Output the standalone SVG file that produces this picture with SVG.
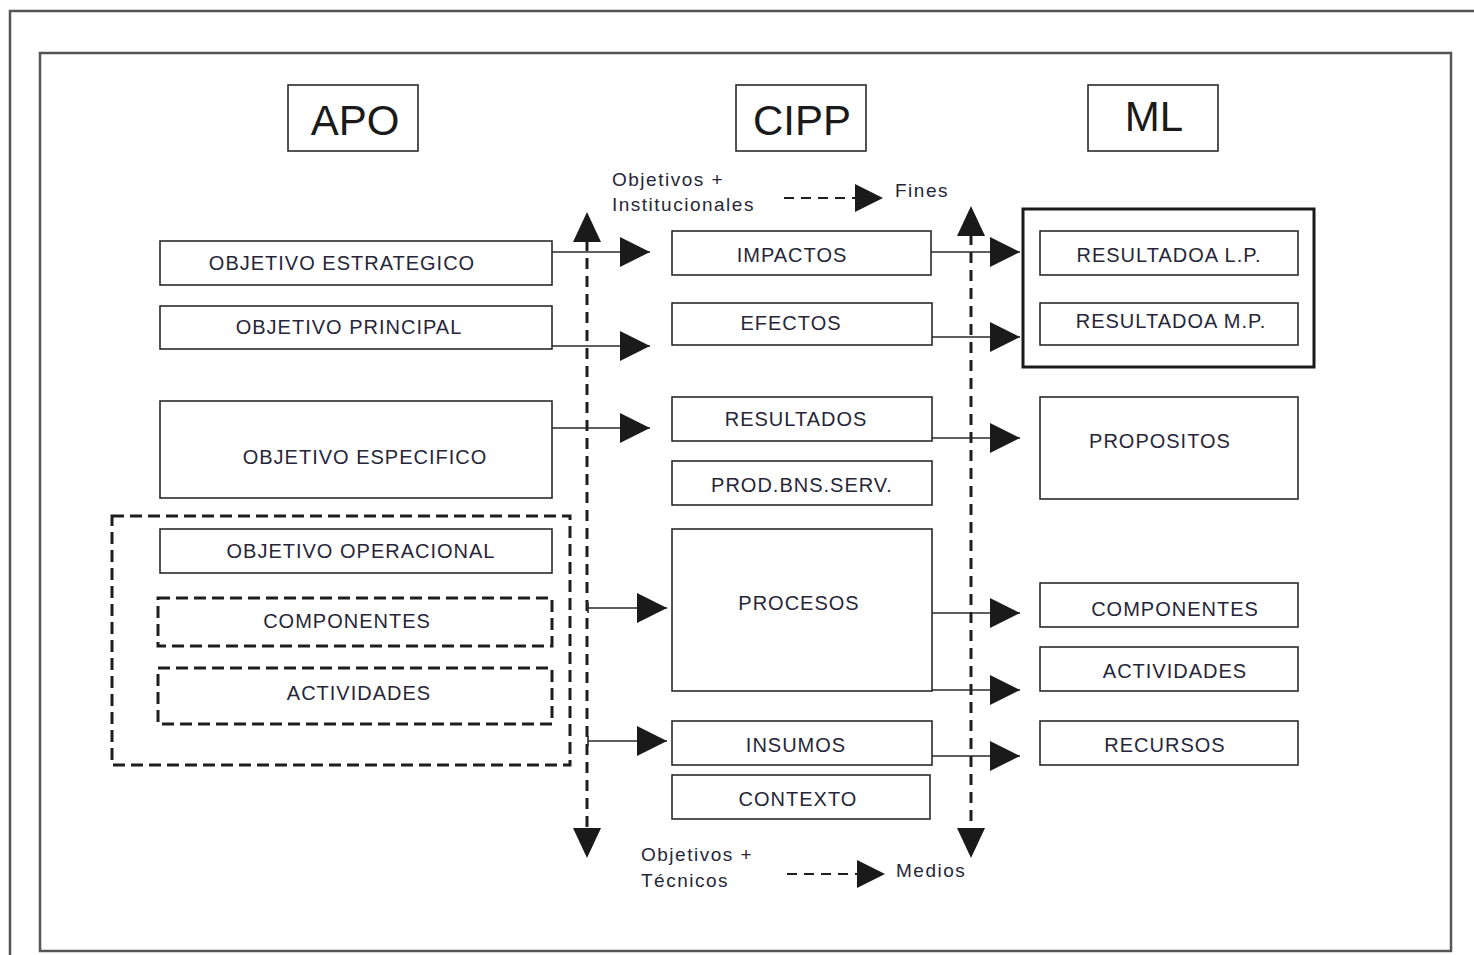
<svg xmlns="http://www.w3.org/2000/svg" width="1474" height="955" viewBox="0 0 1474 955">
<defs>
<style>
.frame{fill:none;stroke:#555;stroke-width:2.5}
.box{fill:#fff;stroke:#2a2a2a;stroke-width:1.6}
.dbox{fill:none;stroke:#1e1e1e;stroke-width:3;stroke-dasharray:12 6}
.thick{fill:none;stroke:#1a1a1a;stroke-width:3}
.lbl{font-family:"Liberation Sans",Arial,sans-serif;font-size:20px;letter-spacing:1px;fill:#262638;text-anchor:middle}
.big{font-family:"Liberation Sans",Arial,sans-serif;font-size:42px;fill:#1a1a1a;text-anchor:middle}
.small{font-family:"Liberation Sans",Arial,sans-serif;font-size:19px;letter-spacing:1.5px;fill:#262638}
.ln{fill:none;stroke:#2a2a2a;stroke-width:1.6}
.dl{fill:none;stroke:#1e1e1e;stroke-width:3;stroke-dasharray:11 7}
.dl2{fill:none;stroke:#1e1e1e;stroke-width:2;stroke-dasharray:10 7}
.ah{fill:#1a1a1a}
</style>
<marker id="arr" markerUnits="userSpaceOnUse" markerWidth="30" markerHeight="30" viewBox="0 0 28 28" refX="28" refY="14" orient="auto">
<path d="M0,0 L28,14 L0,28 Z" fill="#1a1a1a"/>
</marker>
</defs>
<rect width="1474" height="955" fill="#fff"/>
<g id="frames">
<path class="frame" d="M10,962 V11 H1480"/>
<rect class="frame" x="40" y="53" width="1411" height="898"/>
</g>
<g id="headers">
<g id="apo"><rect class="box" x="288" y="85" width="130" height="66"/><text class="big" x="355" y="135">APO</text></g>
<g id="cipp"><rect class="box" x="736" y="85" width="130" height="66"/><text class="big" x="802" y="135">CIPP</text></g>
<g id="ml"><rect class="box" x="1088" y="85" width="130" height="66"/><text class="big" x="1154" y="131">ML</text></g>
</g>
<g id="apo-col">
<g id="obj-estrategico"><rect class="box" x="160" y="241" width="392" height="44"/><text class="lbl" x="342" y="270">OBJETIVO ESTRATEGICO</text></g>
<g id="obj-principal"><rect class="box" x="160" y="306" width="392" height="43"/><text class="lbl" x="349" y="334">OBJETIVO PRINCIPAL</text></g>
<g id="obj-especifico"><rect class="box" x="160" y="401" width="392" height="97"/><text class="lbl" x="365" y="464">OBJETIVO ESPECIFICO</text></g>
<g id="grupo-operacional"><rect class="dbox" x="112" y="516" width="458" height="249"/></g>
<g id="obj-operacional"><rect class="box" x="160" y="529" width="392" height="44"/><text class="lbl" x="361" y="558">OBJETIVO OPERACIONAL</text></g>
<g id="componentes-apo"><rect class="dbox" x="158" y="598" width="394" height="48"/><text class="lbl" x="347" y="628">COMPONENTES</text></g>
<g id="actividades-apo"><rect class="dbox" x="158" y="668" width="394" height="56"/><text class="lbl" x="359" y="700">ACTIVIDADES</text></g>
</g>
<g id="cipp-col">
<g id="impactos"><rect class="box" x="672" y="231" width="259" height="44"/><text class="lbl" x="792" y="262">IMPACTOS</text></g>
<g id="efectos"><rect class="box" x="672" y="303" width="260" height="42"/><text class="lbl" x="791" y="330">EFECTOS</text></g>
<g id="resultados"><rect class="box" x="672" y="397" width="260" height="44"/><text class="lbl" x="796" y="426">RESULTADOS</text></g>
<g id="prod"><rect class="box" x="672" y="461" width="260" height="44"/><text class="lbl" x="802" y="492">PROD.BNS.SERV.</text></g>
<g id="procesos"><rect class="box" x="672" y="529" width="260" height="162"/><text class="lbl" x="799" y="610">PROCESOS</text></g>
<g id="insumos"><rect class="box" x="672" y="721" width="260" height="44"/><text class="lbl" x="796" y="752">INSUMOS</text></g>
<g id="contexto"><rect class="box" x="672" y="775" width="258" height="44"/><text class="lbl" x="798" y="806">CONTEXTO</text></g>
</g>
<g id="ml-col">
<g id="grupo-resultados"><rect class="thick" x="1023" y="209" width="291" height="158"/></g>
<g id="res-lp"><rect class="box" x="1040" y="231" width="258" height="44"/><text class="lbl" x="1169" y="262">RESULTADOA L.P.</text></g>
<g id="res-mp"><rect class="box" x="1040" y="303" width="258" height="42"/><text class="lbl" x="1171" y="328">RESULTADOA M.P.</text></g>
<g id="propositos"><rect class="box" x="1040" y="397" width="258" height="102"/><text class="lbl" x="1160" y="448">PROPOSITOS</text></g>
<g id="componentes-ml"><rect class="box" x="1040" y="583" width="258" height="44"/><text class="lbl" x="1175" y="616">COMPONENTES</text></g>
<g id="actividades-ml"><rect class="box" x="1040" y="647" width="258" height="44"/><text class="lbl" x="1175" y="678">ACTIVIDADES</text></g>
<g id="recursos"><rect class="box" x="1040" y="721" width="258" height="44"/><text class="lbl" x="1165" y="752">RECURSOS</text></g>
</g>
<g id="labels">
<text class="small" x="612" y="186">Objetivos +</text>
<text class="small" x="612" y="211">Institucionales</text>
<text class="small" x="895" y="197">Fines</text>
<text class="small" x="641" y="861">Objetivos +</text>
<text class="small" x="641" y="887">Técnicos</text>
<text class="small" x="896" y="877">Medios</text>
</g>
<g id="connectors">
<path class="dl" d="M587,240 V830"/>
<path class="ah" d="M573,242 L587,212 L601,242 Z"/>
<path class="ah" d="M573,828 L587,858 L601,828 Z"/>
<path class="dl" d="M971,234 V830"/>
<path class="ah" d="M957,236 L971,206 L985,236 Z"/>
<path class="ah" d="M957,828 L971,858 L985,828 Z"/>
<path class="dl2" d="M784,198 H856"/>
<path class="ah" d="M855,184 L883,198 L855,212 Z"/>
<path class="dl2" d="M787,874 H858"/>
<path class="ah" d="M857,860 L885,874 L857,888 Z"/>
<path class="ln" d="M552,252 H650" marker-end="url(#arr)"/>
<path class="ln" d="M552,346 H650" marker-end="url(#arr)"/>
<path class="ln" d="M552,428 H650" marker-end="url(#arr)"/>
<path class="ln" d="M588,608 H667" marker-end="url(#arr)"/>
<path class="ln" d="M588,603 V613"/>
<path class="ln" d="M588,741 H667" marker-end="url(#arr)"/>
<path class="ln" d="M588,736 V746"/>
<path class="ln" d="M931,252 H1020" marker-end="url(#arr)"/>
<path class="ln" d="M932,337 H1020" marker-end="url(#arr)"/>
<path class="ln" d="M932,438 H1020" marker-end="url(#arr)"/>
<path class="ln" d="M932,613 H1020" marker-end="url(#arr)"/>
<path class="ln" d="M932,690 H1020" marker-end="url(#arr)"/>
<path class="ln" d="M932,756 H1020" marker-end="url(#arr)"/>
</g>
</svg>
